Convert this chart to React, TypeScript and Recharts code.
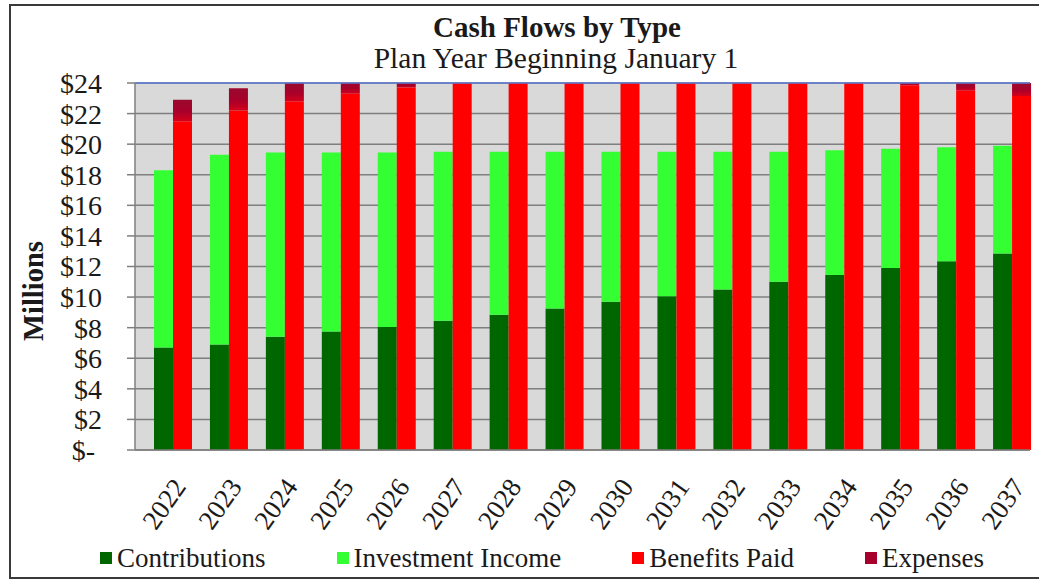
import React from 'react';
import { BarChart, Bar, XAxis, YAxis, CartesianGrid, ReferenceLine, Legend } from 'recharts';

// values, in $ millions
const years = ['2022', '2023', '2024', '2025', '2026', '2027', '2028', '2029', '2030', '2031', '2032', '2033', '2034', '2035', '2036', '2037'];
const contributions = [6.7, 6.9, 7.4, 7.75, 8.05, 8.45, 8.85, 9.25, 9.7, 10.05, 10.5, 11.0, 11.45, 11.9, 12.35, 12.85];
const investmentIncome = [11.6, 12.4, 12.05, 11.7, 11.4, 11.05, 10.65, 10.25, 9.8, 9.45, 9.0, 8.5, 8.15, 7.8, 7.45, 7.05];
const benefitsPaid = [21.5, 22.2, 22.8, 23.3, 23.7, 24.05, 24.3, 24.5, 24.6, 24.6, 24.5, 24.35, 24.15, 23.85, 23.5, 23.15];
const expenses = [1.4, 1.45, 1.5, 1.5, 1.5, 1.5, 1.5, 1.55, 1.55, 1.55, 1.6, 1.6, 1.6, 1.6, 1.65, 1.65];
const yTicks = [0, 2, 4, 6, 8, 10, 12, 14, 16, 18, 20, 22, 24];
const seriesNames = ['Contributions', 'Investment Income', 'Benefits Paid', 'Expenses'];

const rows = years.map((year, i) => ({
  year,
  contributions: contributions[i],
  investment: investmentIncome[i],
  benefits: benefitsPaid[i],
  expenses: expenses[i],
}));

// each year is 3 slots wide (gap, inflow, outflow); tick marks sit on every slot edge
const slotTicks = Array.from({ length: years.length * 3 + 1 }, (_, i) => i);

const serif = '"Liberation Serif", "Times New Roman", serif';
const ink = '#1a1a1a';
const gridGray = '#7f7f7f';

const legendColors = {
  Contributions: '#006600',
  'Investment Income': '#33ff33',
  'Benefits Paid': '#ff0000',
  Expenses: '#a8002c',
};

const YearTick = ({ x, y, payload }) => {
  const tx = x + 24;
  const ty = y + 36;
  return (
    <text x={tx} y={ty} transform={`rotate(-55 ${tx} ${ty})`} textAnchor="end" fontSize={27} fontFamily={serif} fill={ink}>
      {payload.value}
    </text>
  );
};

const LegendContent = ({ payload }) => {
  const items = seriesNames
    .map((name) => (payload || []).find((p) => p.value === name))
    .filter(Boolean);
  return (
    <div style={{ display: 'flex', gap: 71, paddingLeft: 100, fontFamily: serif, fontSize: 27, lineHeight: '30px', color: ink, whiteSpace: 'nowrap' }}>
      {items.map((p) => (
        <div key={p.value} style={{ display: 'flex', alignItems: 'center', gap: 5, flexShrink: 0 }}>
          <span style={{ width: 12, height: 12, background: legendColors[p.value], display: 'inline-block' }} />
          <span>{p.value}</span>
        </div>
      ))}
    </div>
  );
};

const App = () => {
  return (
    <div style={{ position: 'absolute', left: 0, top: 0, width: 1039, height: 579, overflow: 'hidden', background: '#fff' }}>
      <div style={{ position: 'absolute', left: 9, top: 4, width: 1060, height: 571, border: '2px solid #3a3a3a' }} />
      <BarChart
        width={1039}
        height={579}
        data={rows}
        margin={{ top: 83, right: 9, bottom: 127, left: 0 }}
        barCategoryGap={0}
        barGap={0}
        style={{ position: 'absolute', left: 0, top: 0 }}
      >
        <defs>
          <linearGradient id="expGrad" x1="0" y1="0" x2="0" y2="1">
            <stop offset="0%" stopColor="#9a0a2e" />
            <stop offset="55%" stopColor="#a8002a" />
            <stop offset="100%" stopColor="#d4001c" />
          </linearGradient>
        </defs>
        <CartesianGrid xAxisId="years" vertical={false} stroke={gridGray} strokeWidth={1.5} fill="#d9d9d9" fillOpacity={1} />
        <XAxis
          xAxisId="slots"
          type="number"
          domain={[0, slotTicks.length - 1]}
          ticks={slotTicks}
          interval={0}
          allowDataOverflow
          tick={false}
          tickSize={8}
          height={1}
          stroke={gridGray}
          strokeWidth={1.5}
        />
        <XAxis
          xAxisId="years"
          dataKey="year"
          interval={0}
          tickLine={false}
          axisLine={false}
          tickSize={0}
          tickMargin={0}
          height={1}
          tick={<YearTick />}
        />
        <YAxis
          width={135}
          domain={[0, 24]}
          ticks={yTicks}
          interval={0}
          allowDataOverflow
          tickSize={8}
          tickMargin={25}
          stroke={gridGray}
          strokeWidth={1.5}
          tick={{ fontSize: 28, fontFamily: serif, fill: ink }}
          tickFormatter={(v) => (v === 0 ? '$-\u00A0' : `$${v}`)}
        />
        <ReferenceLine xAxisId="years" y={24} stroke="#5b7bd5" strokeWidth={1.5} />
        <Bar xAxisId="years" dataKey="gap" stackId="gap" legendType="none" isAnimationActive={false} />
        <Bar xAxisId="years" dataKey="contributions" stackId="in" name="Contributions" fill="#006600" isAnimationActive={false} />
        <Bar xAxisId="years" dataKey="investment" stackId="in" name="Investment Income" fill="#33ff33" isAnimationActive={false} />
        <Bar xAxisId="years" dataKey="benefits" stackId="out" name="Benefits Paid" fill="#ff0000" isAnimationActive={false} />
        <Bar xAxisId="years" dataKey="expenses" stackId="out" name="Expenses" fill="url(#expGrad)" isAnimationActive={false} />
        <Legend
          layout="horizontal"
          verticalAlign="middle"
          align="center"
          wrapperStyle={{ top: 543, left: 0, width: 1039 }}
          content={<LegendContent />}
        />
      </BarChart>
      <svg width={1039} height={579} style={{ position: 'absolute', left: 0, top: 0, pointerEvents: 'none' }}>
        <text x={557} y={37} textAnchor="middle" fontFamily={serif} fontSize={29} fontWeight="bold" fill={ink}>
          Cash Flows by Type
        </text>
        <text x={556} y={68} textAnchor="middle" fontFamily={serif} fontSize={29.5} fill={ink}>
          Plan Year Beginning January 1
        </text>
        <text x={43} y={291} transform="rotate(-90 43 291)" textAnchor="middle" fontFamily={serif} fontSize={28.5} fontWeight="bold" fill={ink}>
          Millions
        </text>
      </svg>
    </div>
  );
};

export default App;
